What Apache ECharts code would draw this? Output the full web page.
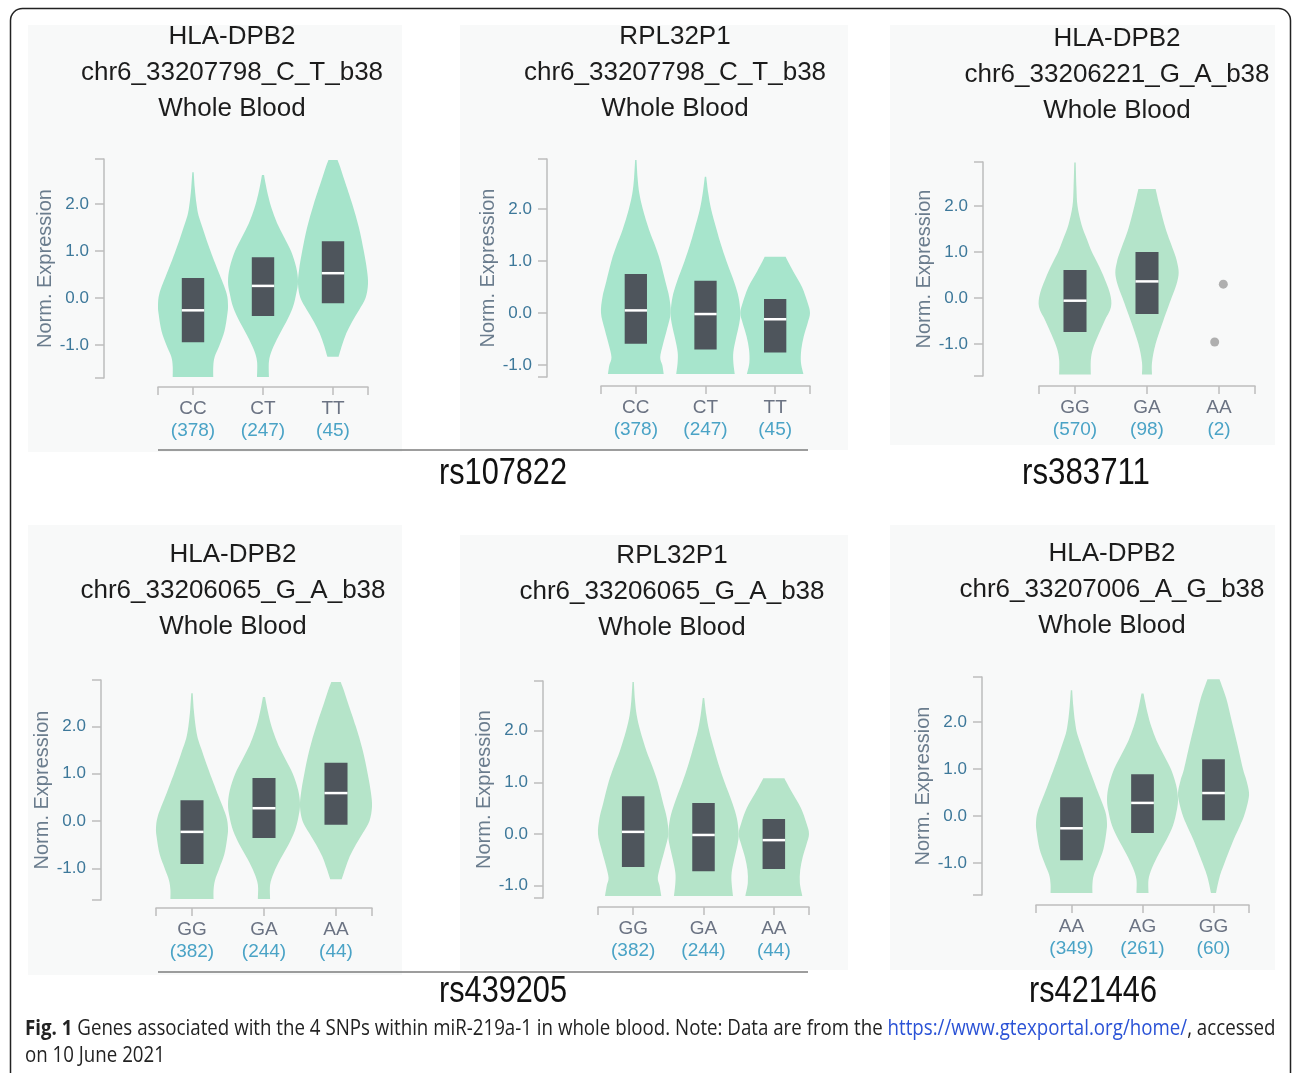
<!DOCTYPE html>
<html>
<head>
<meta charset="utf-8">
<script src="https://cdn.jsdelivr.net/npm/echarts@6/dist/echarts.min.js"></script>
<style>
  html, body { margin: 0; padding: 0; background: #fff; }
  #chart { width: 1292px; height: 1073px; }
</style>
</head>
<body>
<div id="chart"></div>
<script>
// ---- data ----
const genes = ['HLA-DPB2', 'RPL32P1', 'HLA-DPB2', 'HLA-DPB2', 'RPL32P1', 'HLA-DPB2'];
const variants = [
  'chr6_33207798_C_T_b38', 'chr6_33207798_C_T_b38', 'chr6_33206221_G_A_b38',
  'chr6_33206065_G_A_b38', 'chr6_33206065_G_A_b38', 'chr6_33207006_A_G_b38'
];
const tissue = 'Whole Blood';
const snpLabels = ['rs107822', 'rs383711', 'rs439205', 'rs421446'];

const genotypes = [
  ['CC', 'CT', 'TT'], ['CC', 'CT', 'TT'], ['GG', 'GA', 'AA'],
  ['GG', 'GA', 'AA'], ['GG', 'GA', 'AA'], ['AA', 'AG', 'GG']
];
const sampleCounts = [
  [378, 247, 45], [378, 247, 45], [570, 98, 2],
  [382, 244, 44], [382, 244, 44], [349, 261, 60]
];
const yTicks = [-1, 0, 1, 2];
const yDomains = [
  [-1.70, 2.96], [-1.23, 2.96], [-1.70, 2.96],
  [-1.67, 2.98], [-1.24, 2.96], [-1.68, 2.96]
];

// box stats: [q1, median, q3]
const boxesP1 = [[-0.94, -0.26, 0.43], [-0.38, 0.26, 0.87], [-0.11, 0.53, 1.21]];
const boxesP2 = [[-0.59, 0.05, 0.75], [-0.70, -0.02, 0.62], [-0.76, -0.12, 0.27]];
const boxesP3 = [[-0.74, -0.06, 0.61], [-0.35, 0.36, 1.00], null];
const boxesP4 = [[-0.91, -0.23, 0.44], [-0.36, 0.27, 0.91], [-0.08, 0.59, 1.23]];
const boxesP5 = [[-0.64, 0.04, 0.73], [-0.72, -0.02, 0.60], [-0.68, -0.12, 0.29]];
const boxesP6 = [[-0.94, -0.26, 0.40], [-0.36, 0.28, 0.89], [-0.09, 0.49, 1.21]];

// violin outlines: [value, width as share of the category band], bottom to top
const violinsP1 = [
  [[-1.68, 0.58], [-1.45, 0.58], [-1.25, 0.62], [-1.0, 0.76], [-0.7, 0.9], [-0.35, 0.98], [-0.15, 1.0], [0.1, 0.96], [0.5, 0.76], [0.8, 0.6], [1.0, 0.5], [1.25, 0.38], [1.5, 0.27], [1.75, 0.16], [2.0, 0.1], [2.35, 0.05], [2.68, 0.02]],
  [[-1.68, 0.17], [-1.35, 0.17], [-1.1, 0.26], [-0.8, 0.45], [-0.5, 0.67], [-0.2, 0.85], [0.1, 0.95], [0.35, 1.0], [0.65, 0.95], [1.0, 0.8], [1.3, 0.6], [1.6, 0.4], [1.9, 0.25], [2.2, 0.14], [2.45, 0.07], [2.62, 0.03]],
  [[-1.25, 0.16], [-1.0, 0.26], [-0.75, 0.38], [-0.5, 0.55], [-0.25, 0.75], [0.0, 0.93], [0.3, 1.0], [0.6, 0.97], [1.0, 0.88], [1.5, 0.74], [2.0, 0.55], [2.5, 0.33], [2.8, 0.2], [2.94, 0.13]]
];
const violinsP2 = [
  [[-1.17, 0.8], [-1.0, 0.76], [-0.85, 0.7], [-0.6, 0.78], [-0.3, 0.9], [0.0, 1.0], [0.3, 0.96], [0.6, 0.85], [1.0, 0.7], [1.3, 0.55], [1.6, 0.38], [2.0, 0.2], [2.3, 0.1], [2.6, 0.05], [2.94, 0.02]],
  [[-1.17, 0.84], [-0.95, 0.8], [-0.75, 0.8], [-0.5, 0.87], [-0.2, 0.97], [0.0, 1.0], [0.3, 0.95], [0.6, 0.82], [1.0, 0.6], [1.3, 0.45], [1.6, 0.32], [2.0, 0.16], [2.3, 0.08], [2.62, 0.02]],
  [[-1.17, 0.81], [-0.95, 0.74], [-0.7, 0.75], [-0.45, 0.82], [-0.2, 0.93], [0.0, 1.0], [0.2, 0.93], [0.5, 0.77], [0.8, 0.52], [1.0, 0.36], [1.08, 0.3]]
];
const violinsP3 = [
  [[-1.67, 0.44], [-1.35, 0.44], [-1.1, 0.5], [-0.8, 0.65], [-0.5, 0.82], [-0.2, 1.0], [0.1, 0.97], [0.5, 0.78], [0.8, 0.6], [1.0, 0.47], [1.3, 0.32], [1.6, 0.18], [2.0, 0.07], [2.4, 0.04], [2.95, 0.02]],
  [[-1.67, 0.14], [-1.4, 0.14], [-1.0, 0.24], [-0.5, 0.45], [0.0, 0.68], [0.3, 0.82], [0.55, 0.88], [0.8, 0.83], [1.0, 0.75], [1.5, 0.52], [2.0, 0.35], [2.37, 0.24]],
  null
];
const pointsP3 = [[2.06, 0.30], [1.94, -0.96]];
const violinsP4 = [
  [[-1.65, 0.6], [-1.45, 0.6], [-1.25, 0.64], [-1.0, 0.76], [-0.7, 0.9], [-0.35, 0.98], [-0.15, 1.0], [0.1, 0.95], [0.5, 0.75], [0.8, 0.6], [1.0, 0.5], [1.25, 0.38], [1.5, 0.27], [1.75, 0.16], [2.0, 0.1], [2.35, 0.05], [2.7, 0.02]],
  [[-1.65, 0.17], [-1.35, 0.17], [-1.1, 0.27], [-0.8, 0.46], [-0.5, 0.68], [-0.2, 0.86], [0.1, 0.96], [0.35, 1.0], [0.65, 0.95], [1.0, 0.8], [1.3, 0.6], [1.6, 0.4], [1.9, 0.25], [2.2, 0.14], [2.45, 0.07], [2.62, 0.03]],
  [[-1.23, 0.16], [-1.0, 0.26], [-0.75, 0.38], [-0.5, 0.55], [-0.25, 0.75], [0.0, 0.93], [0.3, 1.0], [0.6, 0.97], [1.0, 0.88], [1.5, 0.74], [2.0, 0.55], [2.5, 0.33], [2.8, 0.2], [2.94, 0.13]]
];
const violinsP5 = [
  [[-1.2, 0.8], [-1.0, 0.75], [-0.85, 0.7], [-0.6, 0.78], [-0.3, 0.9], [0.0, 1.0], [0.3, 0.96], [0.6, 0.85], [1.0, 0.7], [1.3, 0.55], [1.6, 0.38], [2.0, 0.2], [2.3, 0.1], [2.6, 0.05], [2.94, 0.02]],
  [[-1.2, 0.84], [-0.95, 0.8], [-0.75, 0.8], [-0.5, 0.87], [-0.2, 0.97], [0.0, 1.0], [0.3, 0.95], [0.6, 0.82], [1.0, 0.6], [1.3, 0.45], [1.6, 0.32], [2.0, 0.16], [2.3, 0.08], [2.63, 0.02]],
  [[-1.2, 0.81], [-0.95, 0.74], [-0.7, 0.75], [-0.45, 0.82], [-0.2, 0.93], [0.0, 1.0], [0.2, 0.93], [0.5, 0.77], [0.8, 0.52], [1.0, 0.36], [1.08, 0.3]]
];
const violinsP6 = [
  [[-1.64, 0.59], [-1.45, 0.59], [-1.25, 0.63], [-1.0, 0.76], [-0.7, 0.9], [-0.35, 0.98], [-0.15, 1.0], [0.1, 0.95], [0.5, 0.75], [0.8, 0.6], [1.0, 0.5], [1.25, 0.38], [1.5, 0.27], [1.75, 0.16], [2.0, 0.1], [2.35, 0.05], [2.68, 0.02]],
  [[-1.64, 0.17], [-1.35, 0.17], [-1.1, 0.27], [-0.8, 0.46], [-0.5, 0.68], [-0.2, 0.86], [0.1, 0.96], [0.35, 1.0], [0.65, 0.95], [1.0, 0.8], [1.3, 0.6], [1.6, 0.4], [1.9, 0.25], [2.2, 0.14], [2.45, 0.07], [2.61, 0.03]],
  [[-1.64, 0.07], [-1.3, 0.17], [-1.0, 0.31], [-0.5, 0.57], [-0.2, 0.75], [0.0, 0.86], [0.3, 0.97], [0.5, 1.0], [0.75, 0.93], [1.0, 0.83], [1.5, 0.68], [2.0, 0.52], [2.5, 0.36], [2.91, 0.17]]
];

const allBoxes = [boxesP1, boxesP2, boxesP3, boxesP4, boxesP5, boxesP6];
const allViolins = [violinsP1, violinsP2, violinsP3, violinsP4, violinsP5, violinsP6];

// ---- layout & style ----
const layout = [
  { left: 158, top: 159, width: 210, height: 219, yOff: 54, xOff: 9, tx: 232, ty: 19, bg: [28, 25, 374, 427], fill: '#a6e4cb' },
  { left: 601, top: 159, width: 209, height: 218, yOff: 54, xOff: 9, tx: 675, ty: 19, bg: [460, 25, 388, 425], fill: '#a7e5cc' },
  { left: 1039, top: 162, width: 216, height: 214, yOff: 56, xOff: 10, tx: 1117, ty: 21, bg: [890, 25, 385, 420], fill: '#b4e4ca' },
  { left: 156, top: 680, width: 216, height: 220, yOff: 55, xOff: 8, tx: 233, ty: 537, bg: [28, 525, 374, 450], fill: '#b5e4c9' },
  { left: 598, top: 681, width: 211, height: 217, yOff: 55, xOff: 9, tx: 672, ty: 538, bg: [460, 535, 388, 435], fill: '#b5e4c9' },
  { left: 1036, top: 677, width: 213, height: 218, yOff: 54, xOff: 10, tx: 1112, ty: 536, bg: [890, 525, 385, 445], fill: '#b6e4ca' }
];
const snpPos = [[503, 474], [1086, 474], [503, 992], [1093, 992]];
const FONT = '"Liberation Sans", Arial, Helvetica, sans-serif';
const AXIS_COLOR = '#bdbdbd';
const BOX_COLOR = '#4e555c';
const BOX_HALF = 0.16;

const chart = echarts.init(document.getElementById('chart'));

// smooth curve through pixel points (Catmull-Rom as cubic bezier)
function curveThrough(pts) {
  let d = '';
  for (let k = 0; k < pts.length - 1; k++) {
    const p0 = pts[Math.max(k - 1, 0)], p1 = pts[k], p2 = pts[k + 1], p3 = pts[Math.min(k + 2, pts.length - 1)];
    const c1 = [p1[0] + (p2[0] - p0[0]) / 6, p1[1] + (p2[1] - p0[1]) / 6];
    const c2 = [p2[0] - (p3[0] - p1[0]) / 6, p2[1] - (p3[1] - p1[1]) / 6];
    d += ' C' + c1[0] + ',' + c1[1] + ' ' + c2[0] + ',' + c2[1] + ' ' + p2[0] + ',' + p2[1];
  }
  return d;
}

function violinItem(profiles, color) {
  return function (params, api) {
    const i = api.value(0);
    const prof = profiles[i];
    if (!prof) return null;
    const right = prof.map(([v, w]) => api.coord([i + w / 2, v]));
    const left = prof.slice().reverse().map(([v, w]) => api.coord([i - w / 2, v]));
    const d = 'M' + right[0][0] + ',' + right[0][1] + curveThrough(right) +
      ' L' + left[0][0] + ',' + left[0][1] + curveThrough(left) + ' Z';
    return { type: 'path', shape: { pathData: d }, style: { fill: color } };
  };
}

function boxItem(stats) {
  return function (params, api) {
    const i = api.value(0);
    const s = stats[i];
    if (!s) return null;
    const [q1, med, q3] = s;
    const tl = api.coord([i - BOX_HALF, q3]);
    const br = api.coord([i + BOX_HALF, q1]);
    const m1 = api.coord([i - BOX_HALF, med]);
    const m2 = api.coord([i + BOX_HALF, med]);
    return {
      type: 'group',
      children: [
        { type: 'rect', shape: { x: tl[0], y: tl[1], width: br[0] - tl[0], height: br[1] - tl[1] }, style: { fill: BOX_COLOR } },
        { type: 'line', shape: { x1: m1[0], y1: m1[1], x2: m2[0], y2: m2[1] }, style: { stroke: '#ffffff', lineWidth: 2.5 } }
      ]
    };
  };
}

const grid = [], xAxis = [], yAxis = [], series = [];
layout.forEach((L, p) => {
  grid.push({ left: L.left, top: L.top, width: L.width, height: L.height });
  const [ymin, ymax] = yDomains[p];
  xAxis.push({
    type: 'value', gridIndex: p, min: -0.5, max: 2.5, offset: L.xOff,
    splitLine: { show: false },
    axisLine: { onZero: false, lineStyle: { color: AXIS_COLOR, width: 1.5 } },
    axisTick: { customValues: [-0.5, 0, 1, 2, 2.5], length: 8, lineStyle: { color: AXIS_COLOR, width: 1.5 } },
    axisLabel: {
      customValues: [0, 1, 2], margin: 11,
      formatter: v => { const k = Math.round(v); return '{g|' + genotypes[p][k] + '}\n{n|(' + sampleCounts[p][k] + ')}'; },
      rich: {
        g: { color: '#6b7383', fontSize: 19, lineHeight: 22, fontFamily: FONT },
        n: { color: '#4aa3c6', fontSize: 19, lineHeight: 22, fontFamily: FONT }
      }
    }
  });
  yAxis.push({
    type: 'value', gridIndex: p, min: ymin, max: ymax, offset: L.yOff,
    name: 'Norm. Expression', nameLocation: 'middle', nameGap: 48,
    nameTextStyle: { color: '#6a7c8d', fontSize: 20, fontFamily: FONT },
    splitLine: { show: false },
    axisLine: { onZero: false, lineStyle: { color: AXIS_COLOR, width: 1.5 } },
    axisTick: { customValues: [ymin].concat(yTicks, [ymax]), length: 9, lineStyle: { color: AXIS_COLOR, width: 1.5 } },
    axisLabel: {
      customValues: yTicks, margin: 15,
      formatter: v => v.toFixed(1),
      color: '#3d789a', fontSize: 17, fontFamily: FONT
    }
  });
  const idx = [[0, 0], [1, 0], [2, 0]];
  series.push({
    type: 'custom', xAxisIndex: p, yAxisIndex: p, encode: { x: 0, y: 1 },
    renderItem: violinItem(allViolins[p], L.fill), data: idx, z: 2
  });
  series.push({
    type: 'custom', xAxisIndex: p, yAxisIndex: p, encode: { x: 0, y: 1 },
    renderItem: boxItem(allBoxes[p]), data: idx, z: 3
  });
});
series.push({
  type: 'scatter', xAxisIndex: 2, yAxisIndex: 2, data: pointsP3,
  symbolSize: 9, itemStyle: { color: '#9c9c9c' }, z: 4
});

// text sizing helpers
const measureCtx = document.createElement('canvas').getContext('2d');
function textWidth(txt, font) { measureCtx.font = font; return measureCtx.measureText(txt).width; }

const graphic = [];
layout.forEach(L => {
  graphic.push({ type: 'rect', z: -10, shape: { x: L.bg[0], y: L.bg[1], width: L.bg[2], height: L.bg[3] }, style: { fill: '#f8f9f9' } });
});
layout.forEach((L, p) => {
  graphic.push({
    type: 'text', x: L.tx, y: L.ty,
    style: {
      text: genes[p] + '\n' + variants[p] + '\n' + tissue,
      font: '26px ' + FONT, fill: '#1c1c1c', lineHeight: 36,
      textAlign: 'center', textVerticalAlign: 'top'
    }
  });
});
graphic.push({ type: 'line', shape: { x1: 158, y1: 450, x2: 808, y2: 450 }, style: { stroke: '#7d7d7d', lineWidth: 1.5 } });
graphic.push({ type: 'line', shape: { x1: 158, y1: 972, x2: 808, y2: 972 }, style: { stroke: '#7d7d7d', lineWidth: 1.5 } });

const snpFont = '37px ' + FONT;
snpLabels.forEach((s, k) => {
  const sx = 128 / textWidth(s, snpFont);
  graphic.push({
    type: 'text', x: snpPos[k][0], y: snpPos[k][1], scaleX: sx,
    style: { text: s, font: snpFont, fill: '#111', textAlign: 'center', textVerticalAlign: 'middle' }
  });
});

const capFont = '21px "Open Sans", sans-serif';
const capLine1 = 'Fig. 1 Genes associated with the 4 SNPs within miR-219a-1 in whole blood. Note: Data are from the https://www.gtexportal.org/home/, accessed';
const capScale = 1248 / textWidth(capLine1, capFont);
graphic.push({
  type: 'text', x: 25, y: 1029, scaleX: capScale,
  style: {
    text: '{b|Fig. 1} Genes associated with the 4 SNPs within miR-219a-1 in whole blood. Note: Data are from the {u|https://www.gtexportal.org/home/}, accessed',
    font: capFont, fill: '#222', textVerticalAlign: 'middle',
    rich: {
      b: { fontWeight: 'bold', fontSize: 21, fontFamily: '"Open Sans", sans-serif', fill: '#222' },
      u: { fontSize: 21, fontFamily: '"Open Sans", sans-serif', fill: '#2a52d6' }
    }
  }
});
graphic.push({
  type: 'text', x: 25, y: 1056, scaleX: capScale,
  style: { text: 'on 10 June 2021', font: capFont, fill: '#222', textVerticalAlign: 'middle' }
});
graphic.push({
  type: 'rect', z: 10,
  shape: { x: 10.5, y: 8.5, width: 1280, height: 1120, r: 12 },
  style: { fill: 'none', stroke: '#222', lineWidth: 1.5 }
});

chart.setOption({
  backgroundColor: '#ffffff',
  animation: false,
  grid, xAxis, yAxis, series, graphic
});
</script>
</body>
</html>
